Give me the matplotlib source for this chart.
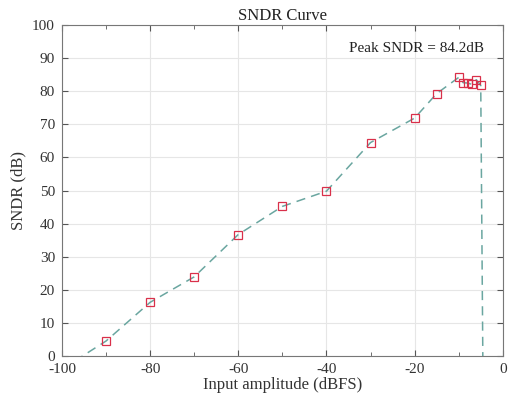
import matplotlib
matplotlib.use('Agg')
import matplotlib.pyplot as plt
from matplotlib.ticker import MultipleLocator

# входные амплитуды и измеренный SNDR
amplitude_dbfs = [-100, -90, -80, -70, -60, -50, -40, -30, -20, -15, -10, -9, -8, -7, -6, -5, -4.3]
sndr_db = [-4.0, 4.5, 16.2, 23.9, 36.7, 45.2, 49.8, 64.5, 71.9, 79.3, 84.2, 82.6, 82.5, 82.1, 83.5, 81.8, -40.0]
peak_label = 'Peak SNDR = 84.2dB'

plt.rcParams['font.family'] = ['Liberation Serif', 'DejaVu Serif']
plt.rcParams['axes.unicode_minus'] = False

fig = plt.figure(figsize=(5.12, 3.99), dpi=100)
ax = fig.add_axes([0.121, 0.108, 0.861, 0.829])

ax.plot(amplitude_dbfs, sndr_db, linestyle=(0, (6, 4)), color='#6aa6a0', linewidth=1.1, zorder=2)
ax.plot(amplitude_dbfs[1:-1], sndr_db[1:-1], linestyle='none', marker='s', markersize=6,
        markerfacecolor='none', markeredgecolor='#d9304a', markeredgewidth=0.9, zorder=3)

ax.set_xlim(-100, 0)
ax.set_ylim(0, 100)
ax.xaxis.set_major_locator(MultipleLocator(20))
ax.xaxis.set_minor_locator(MultipleLocator(10))
ax.yaxis.set_major_locator(MultipleLocator(10))
ax.grid(which='major', color='#e6e6e6', linewidth=0.8)
ax.tick_params(which='both', direction='in', top=True, right=True, color='#555555',
               labelcolor='#333333', labelsize=11)
ax.tick_params(which='major', length=4)
ax.tick_params(which='minor', length=3)
ax.tick_params(axis='x', pad=5)
ax.tick_params(axis='y', pad=5)
for s in ax.spines.values():
    s.set_color('#777777')
    s.set_linewidth(0.8)

ax.text(-19.5, 93, peak_label, ha='center', va='center', fontsize=11, color='#222222')
ax.set_title('SNDR Curve', fontsize=12, color='#222222', pad=4)
ax.set_xlabel('Input amplitude (dBFS)', fontsize=12, color='#333333', labelpad=1)
ax.set_ylabel('SNDR (dB)', fontsize=12, color='#333333', labelpad=4)

plt.savefig('out.png', dpi=100)
